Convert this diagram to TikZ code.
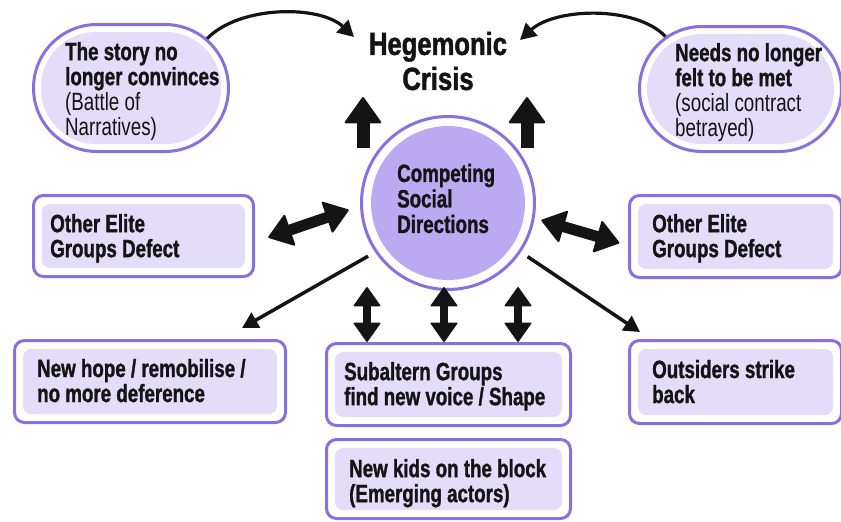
\documentclass[tikz,border=0pt]{standalone}
\usepackage{fontspec}
\setmainfont{Liberation Sans}[FakeStretch=0.75, BoldFeatures={FakeBold=1.2}]
\newfontfamily\hegfont{Liberation Sans}[FakeStretch=0.8, BoldFeatures={FakeBold=1.5}]
\usetikzlibrary{arrows.meta,shapes.misc,calc}
\definecolor{bord}{HTML}{8B6FDF}
\definecolor{lav}{HTML}{E4DDFA}
\definecolor{circfill}{HTML}{BBA9F2}
\definecolor{ink}{HTML}{141414}
\begin{document}
\begin{tikzpicture}[x=1pt,y=-1pt,
  frame/.style={draw=bord, line width=3pt, fill=white, rounded corners=10pt, inner sep=0pt,
    path picture={\fill[lav, rounded corners=8pt] ($(path picture bounding box.south west)+(8.5pt,8.5pt)$) rectangle ($(path picture bounding box.north east)+(-8.5pt,-8.5pt)$);}},
  stadium/.style={shape=rounded rectangle, draw=bord, line width=3pt, fill=white, inner sep=0pt,
    path picture={\fill[lav, rounded corners=55pt] ($(path picture bounding box.south west)+(7.5pt,7.5pt)$) rectangle ($(path picture bounding box.north east)+(-7.5pt,-7.5pt)$);}},
  txt/.style={anchor=west, align=left, inner sep=0pt, text=ink, font=\fontsize{25}{25}\selectfont\bfseries},
  curvearr/.style={draw=ink, line width=3.2pt, -{Triangle[length=16pt,width=17pt]}},
  thinarr/.style={draw=ink, line width=3.5pt, -{Triangle[length=16pt,width=17pt]}},
  bigup/.style={draw=ink, line width=13pt, -{Triangle[length=27pt,width=38pt,round,line width=2pt]}},
  sidedbl/.style={draw=ink, line width=11pt, {Triangle[length=24pt,width=34pt,round,line width=2pt]}-{Triangle[length=24pt,width=34pt,round,line width=2pt]}},
  vdbl/.style={draw=ink, line width=8pt, {Triangle[length=20pt,width=28pt,round,line width=1.5pt]}-{Triangle[length=20pt,width=28pt,round,line width=1.5pt]}}
]
\useasboundingbox (0,0) rectangle (841,522);

% frames
\node[stadium, minimum width=195pt, minimum height=127pt] (story) at (131,88) {};
\node[txt] (storyT) at (65,91.2) {The story no\\longer convinces\\{\mdseries(Battle of}\\{\mdseries Narratives)}};

\node[stadium, minimum width=202pt, minimum height=125pt] (needs) at (740.5,89) {};
\node[txt] (needsT) at (675,92.2) {Needs no longer\\felt to be met\\{\mdseries(social contract}\\{\mdseries betrayed)}};

\node[align=center, inner sep=0pt, text=ink, font=\hegfont\fontsize{32}{35}\selectfont\bfseries] (heg) at (438,61) {Hegemonic\\Crisis};
\coordinate (hegL) at (354,37);
\coordinate (hegR) at (520,40);

\node[circle, draw=bord, line width=3pt, fill=white, minimum size=173pt, inner sep=0pt,
  path picture={\fill[circfill] (path picture bounding box.center) circle[radius=77pt];}] (circ) at (448,203) {};
\node[txt, font=\fontsize{25}{25.5}\selectfont\bfseries] (circT) at (397,198.5) {Competing\\Social\\Directions};

\node[frame, minimum width=220pt, minimum height=81pt] (eliteL) at (143.5,236) {};
\node[txt] (eliteLT) at (50,238.2) {Other Elite\\Groups Defect};

\node[frame, minimum width=212pt, minimum height=82pt] (eliteR) at (735.5,236.5) {};
\node[txt] (eliteRT) at (652,238.2) {Other Elite\\Groups Defect};

\node[frame, minimum width=271pt, minimum height=82pt] (newhope) at (150,381.5) {};
\node[txt] (newhopeT) at (37,380.6) {New hope / remobilise /\\no more deference};

\node[frame, minimum width=244pt, minimum height=82pt] (subaltern) at (448.5,384.5) {};
\node[txt] (subalternT) at (344,386.2) {Subaltern Groups\\find new voice / Shape};

\node[frame, minimum width=212pt, minimum height=83pt] (outsiders) at (735.5,382) {};
\node[txt] (outsidersT) at (652,381.6) {Outsiders strike\\back};

\node[frame, minimum width=244pt, minimum height=79pt] (newkids) at (448.5,479) {};
\node[txt] (newkidsT) at (349,483.2) {New kids on the block\\(Emerging actors)};

% connectors
\draw[curvearr] (story.33) .. controls (240,5) and (320,5) .. (hegL);
\draw[curvearr] (needs.145) .. controls (635,5) and (555,8) .. (hegR);

\coordinate (u1a) at (363,148);
\coordinate (u1b) at (363,97);
\coordinate (u2a) at (527,148);
\coordinate (u2b) at (527,97);
\draw[bigup] (u1a) -- (u1b);
\draw[bigup] (u2a) -- (u2b);

\draw[sidedbl, shorten <=14pt, shorten >=12pt] ($(eliteL.east)+(0,6)$) -- (circ.182);
\draw[sidedbl, shorten <=7pt, shorten >=9pt] (circ.-10) -- ($(eliteR.west)+(0,9)$);

\draw[thinarr, shorten <=8pt] (circ.214) -- ($(newhope.north east)+(-45,-11)$);
\draw[thinarr, shorten <=8pt] (circ.-34) -- ($(outsiders.north west)+(12,-7)$);

\coordinate (v1) at (367,287);
\coordinate (v2) at (444,287);
\coordinate (v3) at (518,287);
\draw[vdbl] (v1) -- ($(subaltern.north)+(-81.5,0)$);
\draw[vdbl] (v2) -- ($(subaltern.north)+(-4.5,0)$);
\draw[vdbl] (v3) -- ($(subaltern.north)+(69.5,0)$);
\end{tikzpicture}
\end{document}
